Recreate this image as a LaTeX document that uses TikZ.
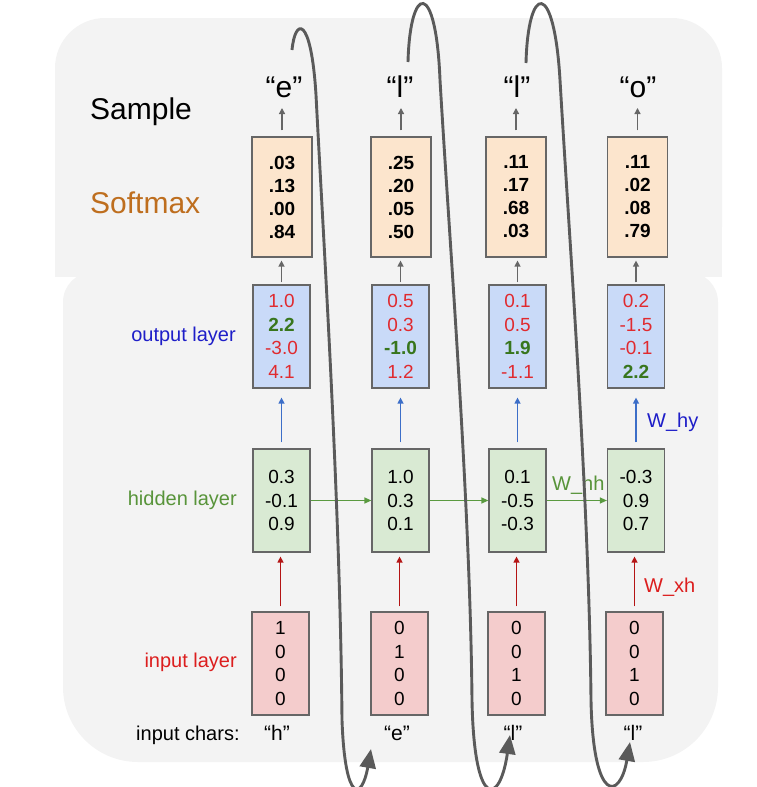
\documentclass[tikz,border=0pt]{standalone}
\usepackage{fontspec}
\setmainfont{Liberation Sans}
\usetikzlibrary{arrows.meta}
\definecolor{bgc}{HTML}{F3F3F3}
\definecolor{boxedge}{HTML}{666666}
\definecolor{smfill}{HTML}{FCE5CD}
\definecolor{outfill}{HTML}{C9DAF8}
\definecolor{hidfill}{HTML}{D9EAD3}
\definecolor{infill}{HTML}{F4CCCC}
\definecolor{numred}{HTML}{E02A2F}
\definecolor{numgreen}{HTML}{38761D}
\definecolor{outc}{HTML}{1E1EC8}
\definecolor{hidc}{HTML}{58943A}
\definecolor{softc}{HTML}{BE6E1E}
\definecolor{inc}{HTML}{DC1E1E}
\definecolor{bluearr}{HTML}{3C6EC8}
\definecolor{redarr}{HTML}{B41414}
\definecolor{greenarr}{HTML}{5A9A40}
\definecolor{grayarr}{HTML}{666666}
\definecolor{curvec}{HTML}{5A5A5A}
\newcommand\myR[1]{\textcolor{numred}{#1}}
\newcommand\myG[1]{\textcolor{numgreen}{\bfseries #1}}
\begin{document}
\begin{tikzpicture}[x=1pt,y=-1pt,
  box/.style={draw=boxedge, line width=1.2pt, minimum width=57, minimum height=103, inner sep=0, align=center, font=\fontsize{19}{23.5}\selectfont},
  smbox/.style={box, fill=smfill, minimum width=60, minimum height=120, font=\bfseries\fontsize{19}{23}\selectfont},
  outbox/.style={box, fill=outfill},
  hidbox/.style={box, fill=hidfill},
  inbox/.style={box, fill=infill},
  big/.style={inner sep=0, font=\fontsize{30}{36}\selectfont},
  lbl/.style={inner sep=0, font=\fontsize{20}{24}\selectfont},
  chr/.style={inner sep=0, anchor=base, font=\fontsize{21}{24}\selectfont},
  garr/.style={draw=grayarr, line width=1.3pt, -{Triangle[length=6pt,width=6pt]}},
  barr/.style={draw=bluearr, line width=1.3pt, -{Triangle[length=6pt,width=6pt]}},
  rarr/.style={draw=redarr, line width=1.3pt, -{Triangle[length=6pt,width=6pt]}},
  hharr/.style={draw=greenarr, line width=1.3pt, -{Triangle[length=7pt,width=6pt]}},
  loopc/.style={draw=curvec, line width=2.9pt, -{Triangle[length=19pt,width=16pt]}}
]
\useasboundingbox (0,0) rectangle (756,787);
% backgrounds
\fill[bgc, rounded corners=50pt] (55,18) rectangle (722,277);
\fill[bgc] (55,150) rectangle (722,277);
\fill[bgc, rounded corners=30pt] (63,272) rectangle (718,500);
\fill[bgc, rounded corners=75pt] (63,400) rectangle (718,762);

% left labels
\node[big, anchor=base west] (samplelbl) at (90,119) {Sample};
\node[big, anchor=base west, text=softc] (smlbl) at (90,213) {Softmax};
\node[lbl, anchor=base east, text=outc] (outlbl) at (236,341) {output layer};
\node[lbl, anchor=base east, text=hidc] (hidlbl) at (237,505) {hidden layer};
\node[lbl, anchor=base east, text=inc] (inlbl) at (237,667) {input layer};
\node[lbl, anchor=base west] (chlbl) at (136,740) {input chars:};

% sampled chars
\node[big, anchor=base] (s1) at (284,97) {“e”};
\node[big, anchor=base] (s2) at (400,97) {“l”};
\node[big, anchor=base] (s3) at (517,97) {“l”};
\node[big, anchor=base] (s4) at (638,97) {“o”};

% softmax
\node[smbox] (sm1) at (282,197) {.03\\.13\\.00\\.84};
\node[smbox] (sm2) at (401,197) {.25\\.20\\.05\\.50};
\node[smbox] (sm3) at (516,197) {.11\\.17\\.68\\.03};
\node[smbox] (sm4) at (637.5,197) {.11\\.02\\.08\\.79};

% output
\node[outbox] (o1) at (281.5,336.5) {\myR{1.0}\\\myG{2.2}\\\myR{-3.0}\\\myR{4.1}};
\node[outbox] (o2) at (400.5,336.5) {\myR{0.5}\\\myR{0.3}\\\myG{-1.0}\\\myR{1.2}};
\node[outbox] (o3) at (517.5,336.5) {\myR{0.1}\\\myR{0.5}\\\myG{1.9}\\\myR{-1.1}};
\node[outbox] (o4) at (636,336.5) {\myR{0.2}\\\myR{-1.5}\\\myR{-0.1}\\\myG{2.2}};

% hidden
\node[hidbox] (h1) at (281.5,500.5) {0.3\\-0.1\\0.9};
\node[hidbox] (h2) at (400.5,500.5) {1.0\\0.3\\0.1};
\node[hidbox] (h3) at (517.5,500.5) {0.1\\-0.5\\-0.3};
\node[hidbox] (h4) at (636,500.5) {-0.3\\0.9\\0.7};

% input
\node[inbox] (i1) at (280.5,663.5) {1\\0\\0\\0};
\node[inbox] (i2) at (399.5,663.5) {0\\1\\0\\0};
\node[inbox] (i3) at (516.5,663.5) {0\\0\\1\\0};
\node[inbox] (i4) at (634.5,663.5) {0\\0\\1\\0};

% input chars
\node[chr] (c1) at (277,740) {“h”};
\node[chr] (c2) at (397,740) {“e”};
\node[chr] (c3) at (513,740) {“l”};
\node[chr] (c4) at (633,740) {“l”};

% weight labels
\node[lbl, anchor=base west, text=outc] (why) at (647,427) {W\_hy};
\node[lbl, anchor=base west, text=hidc] (whh) at (552,490) {W\_hh};
\node[lbl, anchor=base west, text=inc] (wxh) at (644,592) {W\_xh};

% arrows
\foreach \k in {1,2,3,4}{
  \draw[garr, shorten <=6pt] (sm\k.north) -- (sm\k.north |- 0,108);
  \draw[garr, shorten <=2pt, shorten >=3pt] (o\k.north) -- (o\k.north |- sm\k.south);
  \draw[barr, shorten <=6pt, shorten >=9pt] (h\k.north) -- (o\k.south -| h\k.north);
  \draw[rarr, shorten <=5pt, shorten >=4pt] (i\k.north) -- (h\k.south -| i\k.north);
}
\draw[hharr] (h1.east) -- (h2.west);
\draw[hharr] (h2.east) -- (h3.west);
\draw[hharr] (h3.east) -- (h4.west);

% feedback loops
\coordinate (k1a) at (292,50);
\coordinate (k1b) at (371,749);
\coordinate (k2a) at (408,62);
\coordinate (k2b) at (510,735);
\coordinate (k3a) at (526,63);
\coordinate (k3b) at (630,742);
\draw[loopc] (k1a) .. controls (295,18) and (311,14) .. (316,95)
  .. controls (324,250) and (340,500) .. (342,720)
  .. controls (345,805) and (362,800) .. (k1b);
\draw[loopc] (k2a) .. controls (410,-16) and (436,-22) .. (440,80)
  .. controls (450,250) and (470,500) .. (472,700)
  .. controls (474,812) and (500,805) .. (k2b);
\draw[loopc] (k3a) .. controls (528,-16) and (554,-22) .. (560,80)
  .. controls (570,250) and (589,500) .. (591,700)
  .. controls (593,805) and (620,800) .. (k3b);
\end{tikzpicture}
\end{document}
